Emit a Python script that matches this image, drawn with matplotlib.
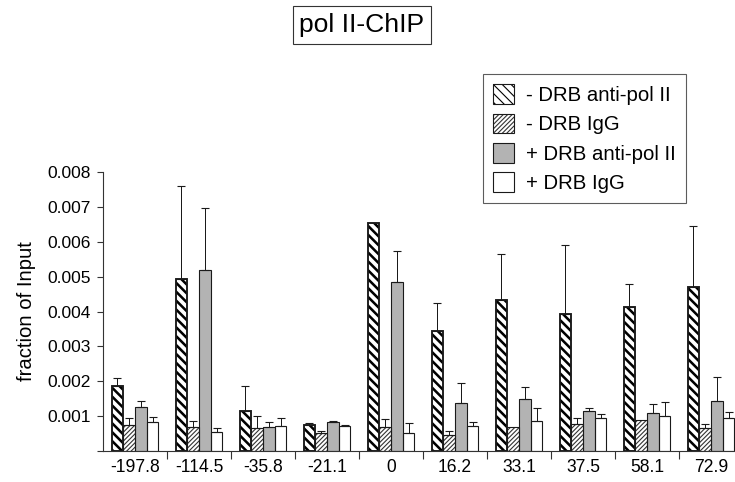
import numpy as np
import matplotlib
matplotlib.use("Agg")
import matplotlib.pyplot as plt
from matplotlib.patches import Patch
from matplotlib.legend_handler import HandlerTuple

plt.rcParams['font.family'] = ['Liberation Sans', 'DejaVu Sans']

categories = ['-197.8', '-114.5', '-35.8', '-21.1', '0', '16.2', '33.1', '37.5', '58.1', '72.9']
series_names = ['- DRB anti-pol II', '- DRB IgG', '+ DRB anti-pol II', '+ DRB IgG']

minus_drb_pol2 = [0.00187, 0.00493, 0.00116, 0.000745, 0.00654, 0.00343, 0.00433, 0.00393, 0.00413, 0.00470]
minus_drb_igg = [0.000745, 0.00070, 0.00065, 0.00051, 0.00070, 0.00045, 0.00070, 0.00077, 0.00089, 0.00065]
plus_drb_pol2 = [0.00125, 0.00519, 0.00070, 0.00084, 0.00485, 0.00137, 0.00148, 0.00115, 0.00108, 0.00144]
plus_drb_igg = [0.00082, 0.00055, 0.00072, 0.00073, 0.00051, 0.00071, 0.00087, 0.00095, 0.00101, 0.00095]

minus_drb_pol2_err = [0.00021, 0.00267, 0.00071, 0.000065, 0.0, 0.00080, 0.00131, 0.00199, 0.00066, 0.00175]
minus_drb_igg_err = [0.00021, 0.00017, 0.00035, 0.00007, 0.00022, 0.00012, 0.0, 0.00018, 0.0, 0.00011]
plus_drb_pol2_err = [0.00019, 0.00178, 0.00014, 0.00003, 0.00088, 0.00057, 0.00036, 0.00009, 0.00026, 0.00069]
plus_drb_igg_err = [0.00015, 0.00010, 0.00023, 0.000015, 0.00028, 0.00013, 0.00037, 0.00010, 0.00039, 0.00016]

values = [minus_drb_pol2, minus_drb_igg, plus_drb_pol2, plus_drb_igg]
errors = [minus_drb_pol2_err, minus_drb_igg_err, plus_drb_pol2_err, plus_drb_igg_err]

DPI = 80
fig = plt.figure(figsize=(735 / DPI, 482 / DPI), dpi=DPI)
ax = fig.add_axes([103 / 735, 31 / 482, 640 / 735, 279 / 482])

x = np.arange(len(categories))
w = 0.183
offsets = (np.arange(4) - 1.5) * w

styles = [
    dict(face='white', hatch='\\\\\\', hcolor='black', hlw=2.3, elw=1.7),
    dict(face='white', hatch='//////', hcolor='#333333', hlw=1.0, elw=1.0),
    dict(face='#b3b3b3', hatch=None, hcolor='#222222', hlw=1.0, elw=1.0),
    dict(face='white', hatch=None, hcolor='#222222', hlw=1.0, elw=1.0),
]

for k in range(4):
    st = styles[k]
    xs = x + offsets[k]
    with plt.rc_context({'hatch.linewidth': st['hlw']}):
        bars = ax.bar(xs, values[k], width=w, color=st['face'], edgecolor=st['hcolor'],
                      hatch=st['hatch'], linewidth=0, zorder=2)
        for b in bars:
            if hasattr(b, 'set_hatch_linewidth'):
                b.set_hatch_linewidth(st['hlw'])
    ax.bar(xs, values[k], width=w, color='none', edgecolor='#1a1a1a', linewidth=st['elw'], zorder=3)
    err = np.array(errors[k])
    mask = err > 0
    ax.errorbar(xs[mask], np.array(values[k])[mask], yerr=[np.zeros(mask.sum()), err[mask]],
                fmt='none', ecolor='#1a1a1a', elinewidth=0.9, capsize=3.6, capthick=1.0, zorder=4)

ax.set_xlim(-0.5, 9.5)
ax.set_ylim(0, 0.008)
ax.spines['top'].set_visible(False)
ax.spines['right'].set_visible(False)
for s in ['left', 'bottom']:
    ax.spines[s].set_color('#333333')
    ax.spines[s].set_linewidth(1.0)

ax.set_xticks(np.arange(len(categories) - 1) + 0.5)
ax.set_xticklabels([])
ax.tick_params(axis='x', which='major', direction='out', length=7, width=1.0, color='#333333')
ax.set_xticks(x, minor=True)
ax.set_xticklabels(categories, minor=True)
ax.tick_params(axis='x', which='minor', length=0, pad=7, labelsize=15.8)

yt = [0, 0.001, 0.002, 0.003, 0.004, 0.005, 0.006, 0.007, 0.008]
ax.set_yticks(yt)
ax.set_yticklabels([''] + ['%.3f' % v for v in yt[1:]])
ax.tick_params(axis='y', direction='out', length=5, width=1.0, color='#333333', labelsize=15.6, pad=6)
ax.set_ylabel('fraction of Input', fontsize=18.2, labelpad=10)

# legend
handles = []
for k in range(4):
    st = styles[k]
    with plt.rc_context({'hatch.linewidth': st['hlw']}):
        p1 = Patch(facecolor=st['face'], edgecolor=st['hcolor'], hatch=st['hatch'], linewidth=0)
        if hasattr(p1, 'set_hatch_linewidth'):
            p1.set_hatch_linewidth(st['hlw'])
    p2 = Patch(facecolor='none', edgecolor='#1a1a1a', linewidth=1.0)
    handles.append((p1, p2))

leg = fig.legend(handles, series_names, handler_map={tuple: HandlerTuple(ndivide=1, pad=0)},
                 loc='upper left', bbox_to_anchor=(483 / 735, 1 - 74 / 482),
                 fontsize=18.3, frameon=True, fancybox=False, edgecolor='#333333',
                 handlelength=1.0, handleheight=1.12, handletextpad=0.6,
                 labelspacing=0.42, borderpad=0.5, borderaxespad=0)
leg.get_frame().set_linewidth(1.0)

fig.text(362 / 735, 1 - 25 / 482, 'pol II-ChIP', ha='center', va='center', fontsize=23.8,
         bbox=dict(boxstyle='square,pad=0.25', facecolor='white', edgecolor='#333333', linewidth=1.0))

fig.savefig('out.png', dpi=DPI)
